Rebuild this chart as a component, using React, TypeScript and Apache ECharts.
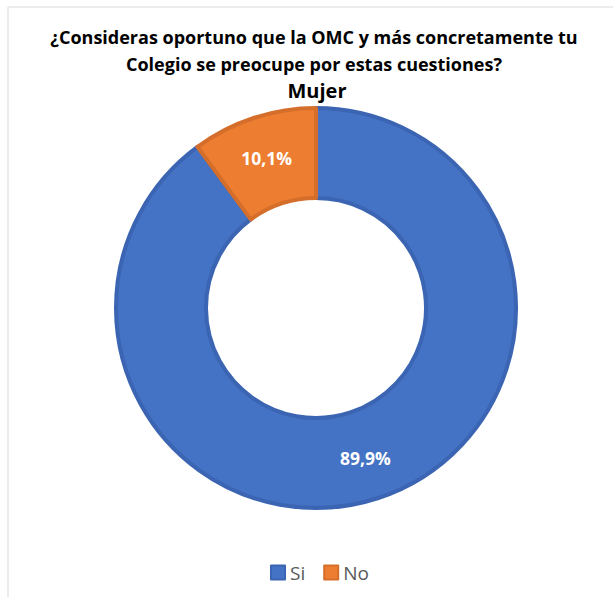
import React, { useEffect, useRef } from "react";
import * as echarts from "echarts";

const titleLines = [
  "¿Consideras oportuno que la OMC y más concretamente tu",
  "Colegio se preocupe por estas cuestiones?",
];
const subtitle = "Mujer";
const categories = ["Si", "No"];
const values = [89.9, 10.1];
const labels = ["89,9%", "10,1%"];
const fills = ["#4472C4", "#ED7D31"];
const strokes = ["#3B65B2", "#D46E2A"];

export default function App() {
  const ref = useRef<HTMLDivElement>(null);
  useEffect(() => {
    if (!ref.current) return;
    const chart = echarts.init(ref.current, null, { renderer: "svg" });
    chart.setOption({
      animation: false,
      backgroundColor: "#ffffff",
      graphic: [
        {
          type: "rect",
          shape: { x: 8, y: 7, width: 620, height: 600 },
          style: { fill: "none", stroke: "#D9D9D9", lineWidth: 1 },
          silent: true,
        },
        ...titleLines.map((t, i) => ({
          type: "text",
          x: 314,
          y: 37 + i * 27,
          style: {
            text: t,
            align: "center",
            verticalAlign: "middle",
            fontFamily: "Open Sans",
            fontWeight: "bold",
            fontSize: 18,
            fill: "#000000",
          },
        })),
        {
          type: "text",
          x: 317,
          y: 90,
          style: {
            text: subtitle,
            align: "center",
            verticalAlign: "middle",
            fontFamily: "Open Sans",
            fontWeight: "bold",
            fontSize: 20,
            fill: "#000000",
          },
        },
      ],
      legend: {
        data: categories,
        bottom: 10,
        left: 265,
        itemWidth: 14,
        itemHeight: 14,
        itemGap: 18,
        icon: "rect",
        textStyle: { fontFamily: "Open Sans", fontSize: 19, color: "#595959" },
      },
      series: [
        {
          type: "pie",
          center: [316, 308],
          radius: [110, 200],
          startAngle: 90,
          clockwise: true,
          avoidLabelOverlap: false,
          label: {
            show: true,
            position: "inside",
            formatter: (p: any) => labels[p.dataIndex],
            color: "#ffffff",
            fontFamily: "Open Sans",
            fontWeight: "bold",
            fontSize: 17.5,
          },
          labelLine: { show: false },
          data: categories.map((c, i) => ({
            name: c,
            value: values[i],
            itemStyle: { color: fills[i], borderColor: strokes[i], borderWidth: 4 },
          })),
        },
      ],
    });
    return () => chart.dispose();
  }, []);
  return (
    <div
      ref={ref}
      style={{ position: "absolute", left: 0, top: 0, width: 613, height: 597 }}
    />
  );
}
